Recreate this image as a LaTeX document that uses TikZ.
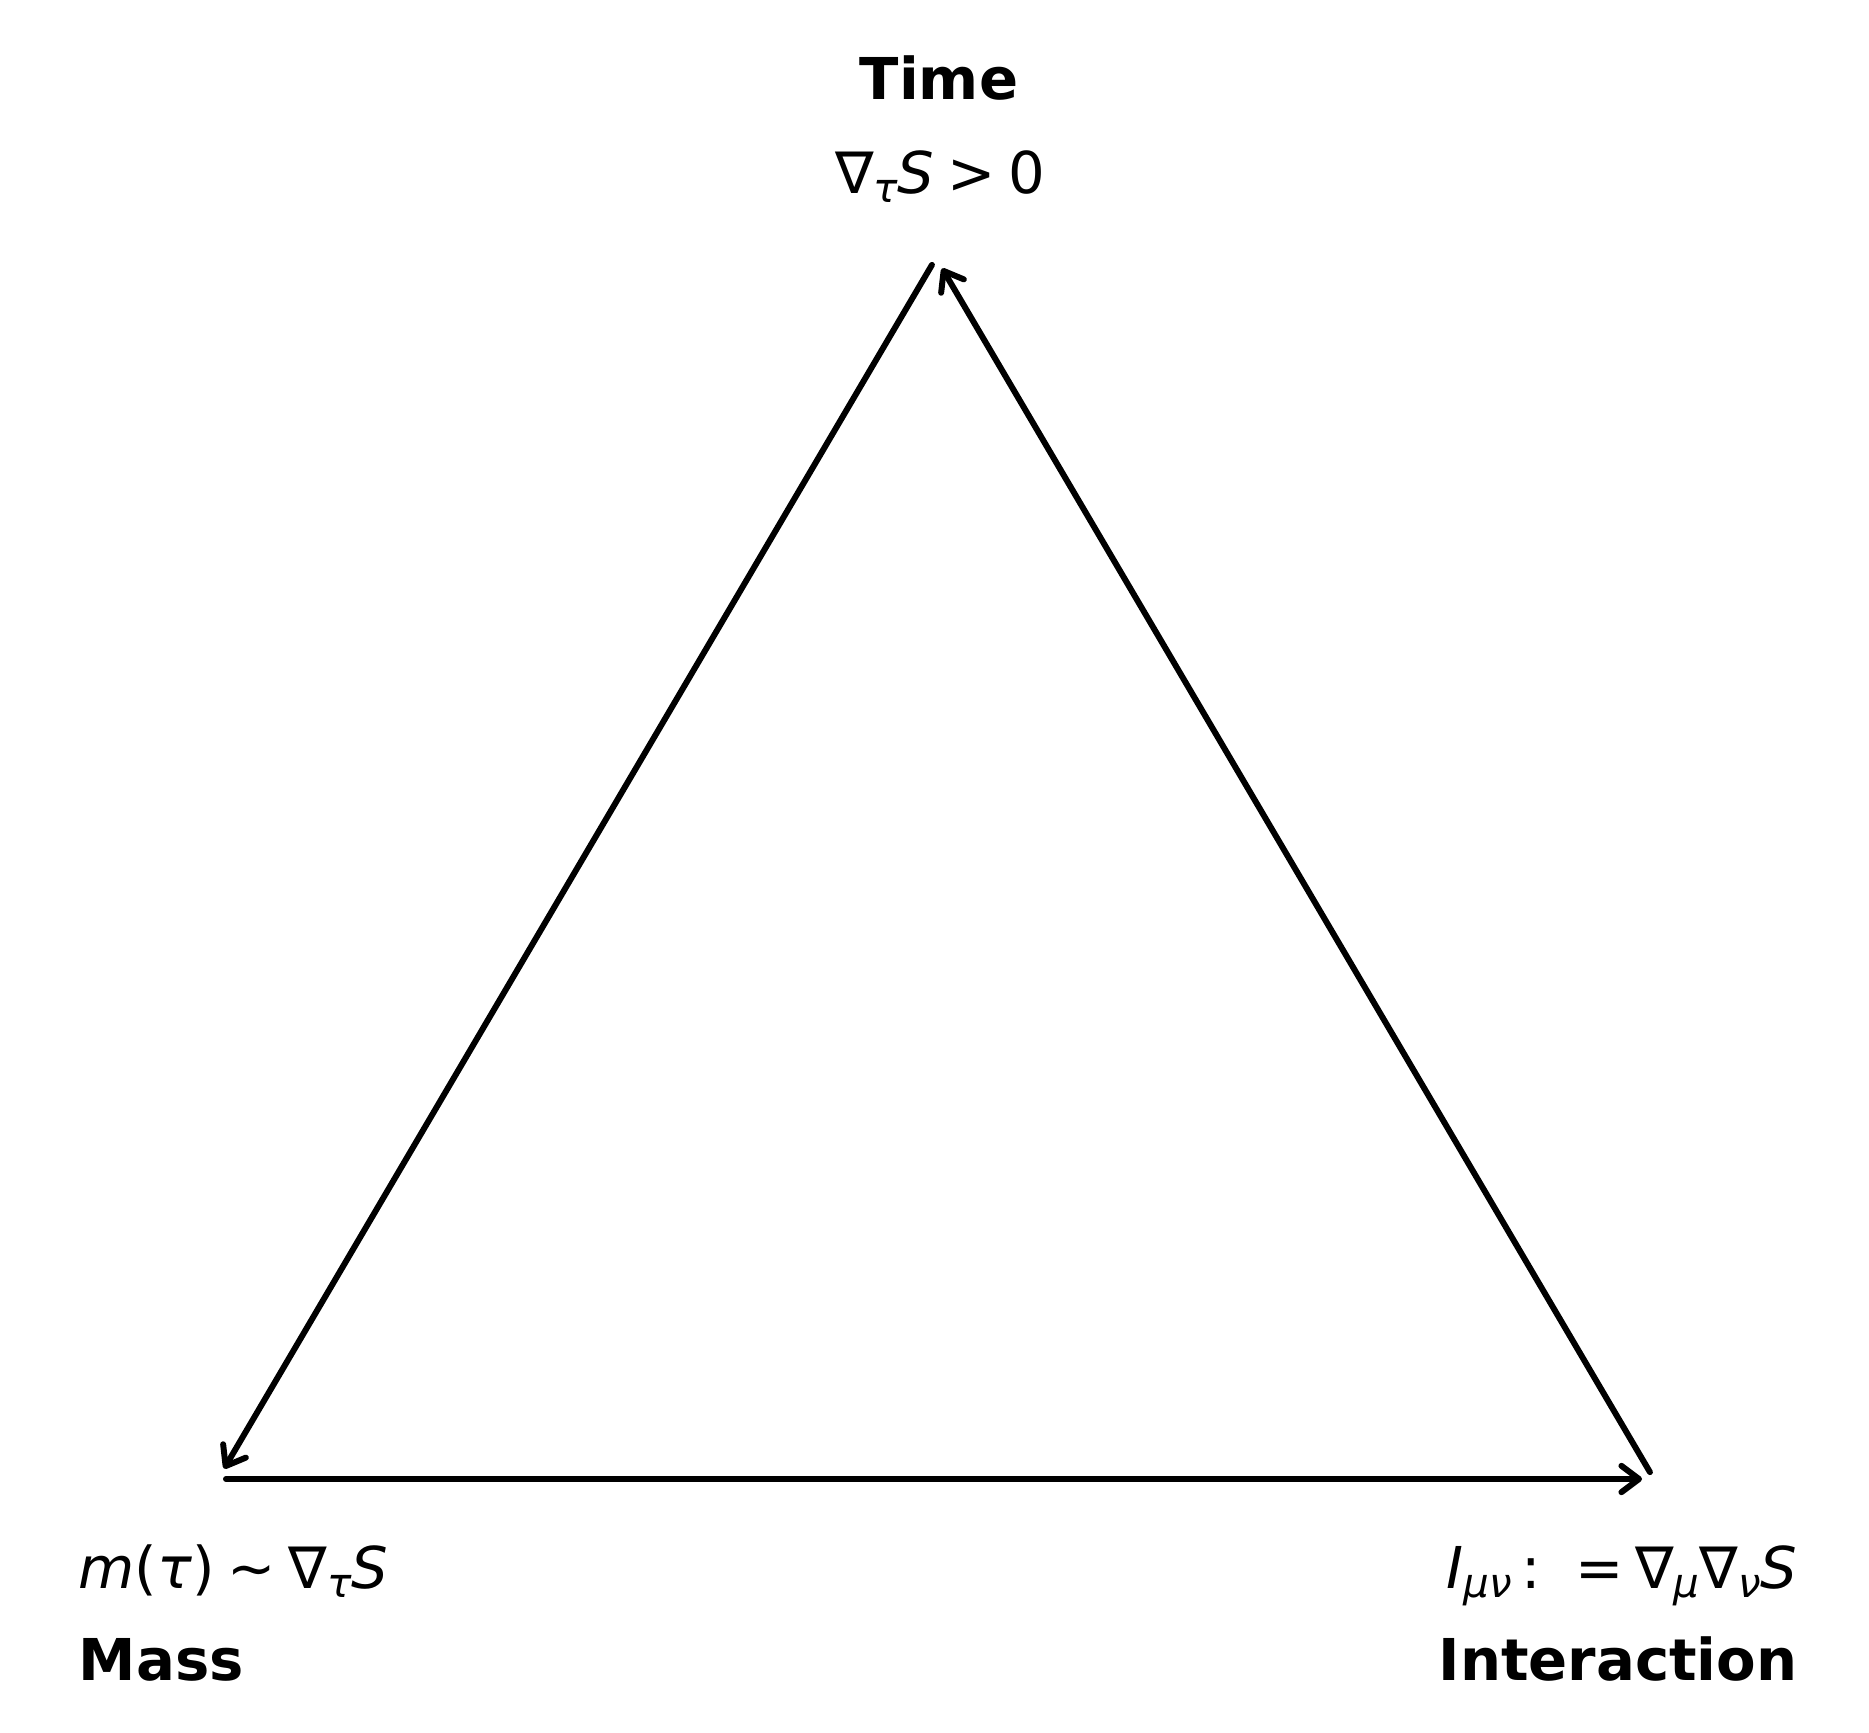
\documentclass[tikz,border=0pt]{standalone}
\usepackage{fontspec}
\setmainfont{DejaVu Sans}
\usetikzlibrary{arrows.meta}
\newcommand\lowsub[1]{\raisebox{-0.17em}{\fontsize{11.5}{12}\selectfont\itshape #1}}
\tikzset{
  edge/.style={line width=1.7pt, line cap=round, line join=round,
    -{Straight Barb[length=5pt,width=7.5pt,line cap=round,line join=round]},
    shorten <=0.08cm, shorten >=0.12cm},
  lbl/.style={inner sep=0pt, font=\fontsize{16.4}{20}\selectfont},
  title/.style={inner sep=0pt, font=\fontsize{16.4}{20}\selectfont\bfseries}
}
\begin{document}
\begin{tikzpicture}[x=0.01cm,y=-0.01cm]
\useasboundingbox (0,0) rectangle (1869,1733);
% corners
\coordinate (tv) at (936,258);
\coordinate (mv) at (218,1479);
\coordinate (iv) at (1654,1479);
% labels
\node[title, anchor=base] (time) at (939,100) {Time};
\node[lbl, anchor=base] (timeeq) at (940,193) {∇\lowsub{τ}\textit{S}\hspace{0.22em}>\hspace{0.22em}0};
\node[lbl, anchor=base west] (masseq) at (78,1588) {\textit{m}(\textit{τ})\hspace{0.22em}∼\hspace{0.22em}∇\lowsub{τ}\textit{S}};
\node[title, anchor=base west] (mass) at (78,1680) {Mass};
\node[lbl, anchor=base east] (inteq) at (1798,1588) {\textit{I}\lowsub{μν}\,:\hspace{0.6em}=\hspace{0.2em}∇\lowsub{μ}∇\lowsub{ν}\textit{S}};
\node[title, anchor=base east] (inter) at (1798,1680) {Interaction};
% arrows
\draw[edge] (tv) -- (mv);
\draw[edge] (mv) -- (iv);
\draw[edge] (iv) -- (tv);
\end{tikzpicture}
\end{document}
